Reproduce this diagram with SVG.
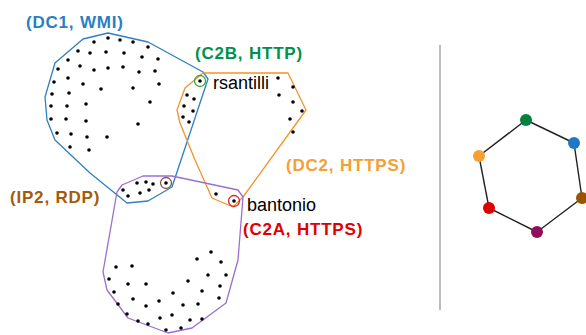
<svg xmlns="http://www.w3.org/2000/svg" width="586" height="335" viewBox="0 0 586 335">
  <defs>
    <style>
      .hull { fill: none; stroke-width: 1.3; stroke-linejoin: round; }
      .dot { fill: #000; }
      .lbl { font-family: "Liberation Sans", Arial, sans-serif; font-size: 17px; font-weight: bold; letter-spacing: 0.8px; }
      .name { font-family: "Liberation Sans", Arial, sans-serif; font-size: 18px; fill: #000; }
      .ring { fill: none; stroke-width: 1.3; }
      .edge { stroke: #222; stroke-width: 1.4; }
    </style>
    <circle id="d" r="1.8" class="dot"/>
  </defs>
  <rect width="586" height="335" fill="#fff"/>

  <!-- group hulls -->
  <g id="hulls">
    <polygon id="hull-dc1" class="hull" stroke="#2f7fc1" points="108,33 148,42 203,72 208,79 172,187 148,201 127,203 90,173 55,140 47,120 45,97 55,63 83,39"/>
    <polygon id="hull-dc2" class="hull" stroke="#f5922a" points="203,73 288,73 306,110 243,197 233,207 212,198 195,160 180,123 177,110 185,88"/>
    <polygon id="hull-ip2" class="hull" stroke="#9b6fcb" points="122,185 143,176 172,176 238,190 243,197 238,260 226,303 192,328 168,333 128,318 107,290 103,272 117,192"/>
  </g>

  <!-- DC1 hosts -->
  <g id="dots-dc1">
    <use href="#d" x="94" y="42"/><use href="#d" x="108" y="38"/><use href="#d" x="120" y="40"/><use href="#d" x="133" y="42"/><use href="#d" x="148" y="47"/>
    <use href="#d" x="78" y="51"/><use href="#d" x="90" y="53"/><use href="#d" x="106" y="52"/><use href="#d" x="124" y="53"/><use href="#d" x="142" y="57"/><use href="#d" x="158" y="59"/>
    <use href="#d" x="68" y="60"/><use href="#d" x="80" y="66"/><use href="#d" x="94" y="70"/><use href="#d" x="108" y="68"/><use href="#d" x="123" y="67"/><use href="#d" x="139" y="72"/><use href="#d" x="155" y="71"/>
    <use href="#d" x="58" y="69"/><use href="#d" x="68" y="78"/><use href="#d" x="54" y="82"/><use href="#d" x="83" y="84"/><use href="#d" x="101" y="89"/><use href="#d" x="133" y="88"/><use href="#d" x="159" y="84"/>
    <use href="#d" x="52" y="94"/><use href="#d" x="69" y="93"/><use href="#d" x="150" y="102"/>
    <use href="#d" x="51" y="106"/><use href="#d" x="67" y="106"/><use href="#d" x="86" y="104"/>
    <use href="#d" x="51" y="119"/><use href="#d" x="66" y="119"/><use href="#d" x="86" y="121"/><use href="#d" x="138" y="124"/>
    <use href="#d" x="57" y="133"/><use href="#d" x="71" y="134"/><use href="#d" x="87" y="137"/><use href="#d" x="107" y="137"/>
    <use href="#d" x="70" y="147"/><use href="#d" x="89" y="150"/>
  </g>

  <!-- DC2 hosts -->
  <g id="dots-dc2">
    <use href="#d" x="187" y="95"/><use href="#d" x="194" y="99"/><use href="#d" x="184" y="106"/><use href="#d" x="193" y="111"/><use href="#d" x="183" y="117"/><use href="#d" x="189" y="122"/>
    <use href="#d" x="278" y="78"/><use href="#d" x="293" y="87"/><use href="#d" x="279" y="95"/><use href="#d" x="293" y="102"/><use href="#d" x="302" y="111"/><use href="#d" x="290" y="119"/><use href="#d" x="293" y="132"/>
    <use href="#d" x="216" y="194"/>
  </g>

  <!-- IP2 hosts -->
  <g id="dots-ip2">
    <use href="#d" x="123" y="190"/><use href="#d" x="137" y="183"/><use href="#d" x="146" y="182"/><use href="#d" x="153" y="184"/><use href="#d" x="128" y="196"/><use href="#d" x="140" y="193"/><use href="#d" x="149" y="190"/>
    <use href="#d" x="211" y="252"/><use href="#d" x="197" y="259"/><use href="#d" x="221" y="262"/><use href="#d" x="116" y="267"/><use href="#d" x="132" y="266"/>
    <use href="#d" x="208" y="275"/><use href="#d" x="226" y="275"/><use href="#d" x="109" y="279"/><use href="#d" x="128" y="284"/><use href="#d" x="146" y="284"/><use href="#d" x="188" y="281"/><use href="#d" x="220" y="286"/>
    <use href="#d" x="114" y="292"/><use href="#d" x="173" y="293"/><use href="#d" x="202" y="291"/><use href="#d" x="133" y="299"/><use href="#d" x="159" y="301"/><use href="#d" x="219" y="298"/>
    <use href="#d" x="118" y="304"/><use href="#d" x="146" y="306"/><use href="#d" x="183" y="305"/><use href="#d" x="198" y="304"/>
    <use href="#d" x="127" y="314"/><use href="#d" x="160" y="318"/><use href="#d" x="172" y="315"/><use href="#d" x="138" y="321"/><use href="#d" x="148" y="324"/><use href="#d" x="190" y="320"/><use href="#d" x="202" y="319"/>
    <use href="#d" x="166" y="330"/><use href="#d" x="181" y="328"/>
  </g>

  <!-- highlighted hosts -->
  <g id="host-rsantilli">
    <circle class="ring" cx="200" cy="81" r="5.5" stroke="#3aa63a"/>
    <use href="#d" x="200" y="81"/>
    <text class="name" x="213" y="89">rsantilli</text>
  </g>
  <g id="host-bantonio">
    <circle class="ring" cx="234" cy="201" r="5.5" stroke="#d62728"/>
    <use href="#d" x="234" y="201"/>
    <text class="name" x="247" y="211">bantonio</text>
  </g>
  <g id="host-ip2">
    <circle class="ring" cx="166" cy="183" r="5.5" stroke="#8c564b"/>
    <use href="#d" x="166" y="183"/>
  </g>

  <!-- group labels -->
  <g id="labels">
    <text class="lbl" x="26" y="28" fill="#2a7fc4">(DC1, WMI)</text>
    <text class="lbl" x="195" y="59" fill="#00914a">(C2B, HTTP)</text>
    <text class="lbl" x="286" y="171" fill="#f5a030">(DC2, HTTPS)</text>
    <text class="lbl" x="10" y="203" fill="#a35a0b">(IP2, RDP)</text>
    <text class="lbl" x="243" y="235" fill="#e00000">(C2A, HTTPS)</text>
  </g>

  <!-- divider -->
  <line x1="440" y1="45" x2="440" y2="310" stroke="#bdbdbd" stroke-width="2"/>

  <!-- ring graph -->
  <g id="connectors">
    <line class="edge" x1="526" y1="120" x2="574" y2="143"/>
    <line class="edge" x1="574" y1="143" x2="582" y2="198"/>
    <line class="edge" x1="582" y1="198" x2="537" y2="232"/>
    <line class="edge" x1="537" y1="232" x2="489" y2="208"/>
    <line class="edge" x1="489" y1="208" x2="479" y2="156"/>
    <line class="edge" x1="479" y1="156" x2="526" y2="120"/>
  </g>
  <g id="n-c2b"><circle cx="526" cy="120" r="6" fill="#00813d"/></g>
  <g id="n-dc1"><circle cx="574" cy="143" r="6" fill="#1f78c4"/></g>
  <g id="n-ip2"><circle cx="582" cy="198" r="6" fill="#9a5300"/></g>
  <g id="n-x"><circle cx="537" cy="232" r="6" fill="#8e0e5e"/></g>
  <g id="n-c2a"><circle cx="489" cy="208" r="6" fill="#dd0000"/></g>
  <g id="n-dc2"><circle cx="479" cy="156" r="6" fill="#f5a030"/></g>
</svg>
